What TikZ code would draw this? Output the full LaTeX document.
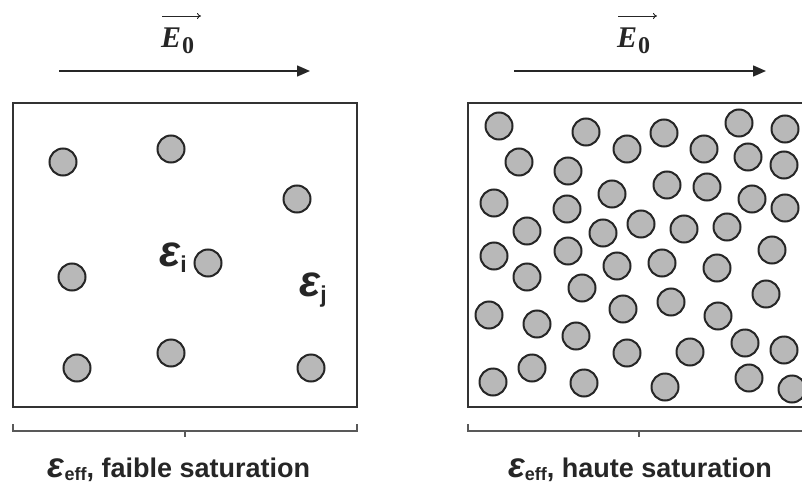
\documentclass[tikz,border=0pt]{standalone}
\usepackage{fontspec}
\setmainfont{Liberation Sans}
\newfontfamily\serifE{Liberation Serif}
\usetikzlibrary{arrows.meta}
\tikzset{
  particle/.style={circle, draw=black!85, line width=2pt, fill=black!28, minimum size=27pt, inner sep=0pt},
  panel/.style={draw=black!80, line width=2pt},
  field/.style={draw=black!85, line width=1.5pt, -{Triangle[length=13pt,width=11pt]}},
  overarrow/.style={draw=black!85, line width=0.9pt, -{To[length=4pt,width=6pt]}},
  brace/.style={draw=black!65, line width=1.6pt},
  lbl/.style={font=\bfseries\fontsize{27}{27}\selectfont, text=black!85, anchor=base, inner sep=0pt},
  epslbl/.style={font=\bfseries, text=black!85, anchor=base west, inner sep=0pt},
  fieldlbl/.style={font=\serifE\bfseries\itshape\fontsize{30}{30}\selectfont, text=black!85, anchor=base west, inner sep=0pt},
}
\newcommand{\epsbig}[1]{{\itshape\fontsize{#1}{#1}\selectfont ε}}
\begin{document}
\begin{tikzpicture}[x=1pt,y=-1pt]
\useasboundingbox (0,0) rectangle (802,484);
\clip (0,0) rectangle (802,484);

% ---- field arrows and labels ----
\node[fieldlbl] (e0L) at (161,48) {E\kern1pt\raisebox{-6pt}{\upshape\fontsize{24}{24}\selectfont 0}};
\node[fieldlbl] (e0R) at (617,48) {E\kern1pt\raisebox{-6pt}{\upshape\fontsize{24}{24}\selectfont 0}};
\coordinate (ovL1) at (162,16); \coordinate (ovL2) at (201,16);
\coordinate (ovR1) at (618,16); \coordinate (ovR2) at (657,16);
\draw[overarrow] (ovL1) -- (ovL2);
\draw[overarrow] (ovR1) -- (ovR2);
\coordinate (aL1) at (59,71); \coordinate (aL2) at (310,71);
\coordinate (aR1) at (514,71); \coordinate (aR2) at (766,71);
\draw[field] (aL1) -- (aL2);
\draw[field] (aR1) -- (aR2);

% ---- panels ----
\draw[panel] (13,103) rectangle (357,407);
\draw[panel] (468,103) rectangle (830,407);

% ---- left particles ----
\foreach \p [count=\i] in {(63,162),(171,149),(297,199),(72,277),(208,263),(171,353),(77,368),(311,368)}
  \node[particle] (l\i) at \p {};

% ---- right particles ----
\foreach \p [count=\i] in {
 (499,126),(586,132),(664,133),(739,123),(785,129),
 (519,162),(627,149),(704,149),(748,157),(784,165),
 (568,171),(667,185),(707,187),(612,194),(752,199),(785,208),
 (494,203),(567,209),(527,231),(603,233),(641,224),(684,229),(727,227),(772,250),
 (494,256),(568,251),(617,266),(662,263),(717,268),
 (527,277),(582,288),(766,294),
 (489,315),(537,324),(623,309),(671,302),(718,316),
 (576,336),(627,353),(690,352),(745,343),(784,350),
 (493,382),(532,368),(584,383),(665,387),(749,378),(792,389)}
  \node[particle] (r\i) at \p {};

% ---- epsilon labels in left panel ----
\node[epslbl] (epsi) at (159,266) {\epsbig{44}\raisebox{-6pt}{\fontsize{23}{23}\selectfont i}};
\node[epslbl] (epsj) at (299,296) {\epsbig{44}\raisebox{-6pt}{\fontsize{23}{23}\selectfont j}};

% ---- brackets ----
\coordinate (bL1) at (13,424); \coordinate (bL2) at (357,424); \coordinate (bLm) at (185,431);
\draw[brace] (bL1) -- ++(0,7) -| (bL2);
\draw[brace] (bLm) -- ++(0,6);
\coordinate (bR1) at (468,424); \coordinate (bR2) at (830,424); \coordinate (bRm) at (639,431);
\draw[brace] (bR1) -- ++(0,7) -| (bR2);
\draw[brace] (bRm) -- ++(0,6);

% ---- bottom labels ----
\node[lbl] (labL) at (179,477) {\epsbig{35}\raisebox{-3pt}{\fontsize{18}{18}\selectfont eff}, faible saturation};
\node[lbl] (labR) at (640,477) {\epsbig{35}\raisebox{-3pt}{\fontsize{18}{18}\selectfont eff}, haute saturation};
\end{tikzpicture}
\end{document}
